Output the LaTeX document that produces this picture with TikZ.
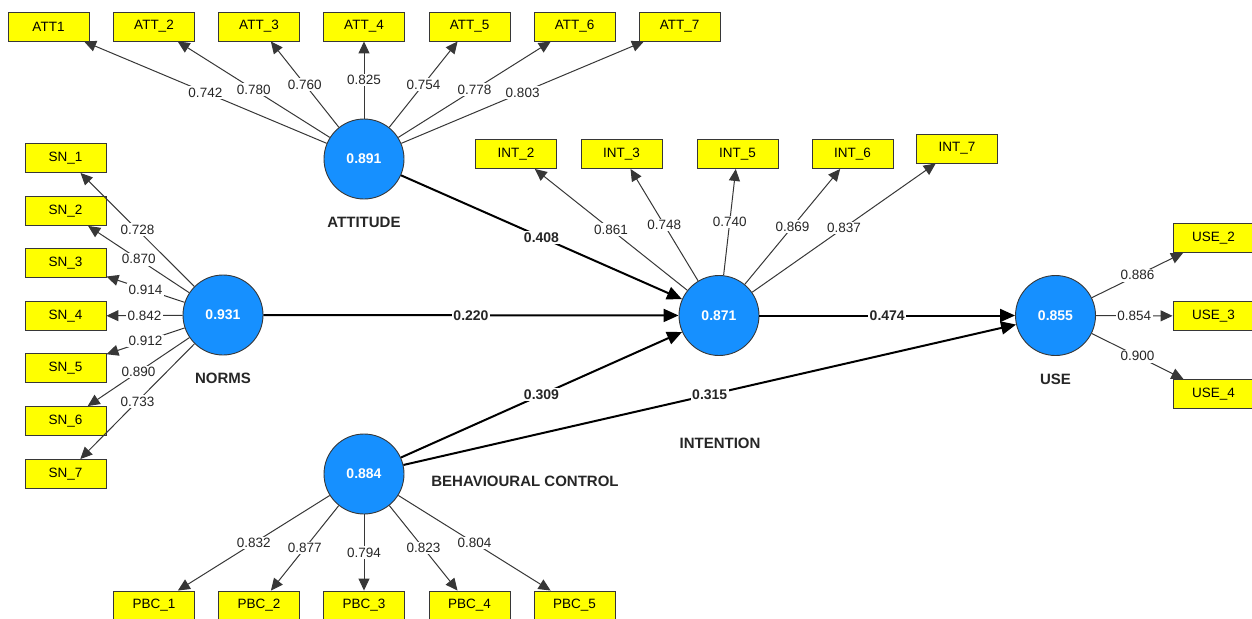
\documentclass[tikz,border=0pt]{standalone}
\usepackage{fontspec}
\setmainfont{Liberation Sans}
\usetikzlibrary{arrows.meta}
\definecolor{lvblue}{RGB}{22,144,255}
\definecolor{mvyellow}{RGB}{255,255,0}
\definecolor{edgegray}{RGB}{55,55,55}
\tikzset{
  latent/.style={circle, draw=edgegray, line width=0.9pt, fill=lvblue, minimum size=80pt,
    inner sep=0pt, text=white, font=\fontsize{14}{16}\selectfont\bfseries},
  indicator/.style={rectangle, draw=edgegray, line width=0.9pt, fill=mvyellow,
    minimum width=81pt, minimum height=29pt, inner sep=0pt, font=\fontsize{13.5}{16}\selectfont},
  lvname/.style={font=\fontsize{15}{18}\selectfont\bfseries, text=black!85},
  loading/.style={draw=edgegray, line width=1pt, -{Triangle[length=12pt,width=11pt]}},
  pathcoef/.style={draw=black, line width=2pt, -{Triangle[length=15pt,width=13pt]}},
  wlabel/.style={fill=white, inner sep=1.5pt, text=black!85, font=\fontsize{13.5}{16}\selectfont},
  blabel/.style={wlabel, font=\fontsize{14}{16}\selectfont\bfseries},
}
\begin{document}
\begin{tikzpicture}[x=1pt, y=-1pt]
\useasboundingbox (0,0) rectangle (1252,618);

% latent variables
\node[latent] (att) at (364,159) {0.891};
\node[latent] (nor) at (223,315) {0.931};
\node[latent] (int) at (719,315.5) {0.871};
\node[latent] (use) at (1055.5,315.5) {0.855};
\node[latent] (pbc) at (364,474) {0.884};

\node[lvname] (attname) at (364,222) {ATTITUDE};
\node[lvname] (norname) at (223,378) {NORMS};
\node[lvname] (intname) at (720,443) {INTENTION};
\node[lvname] (usename) at (1055.5,379) {USE};
\node[lvname] (pbcname) at (525,481) {BEHAVIOURAL CONTROL};

% attitude indicators
\node[indicator] (att1) at (48.5,26.5) {ATT1};
\node[indicator] (att2) at (154,26.5) {ATT\_2};
\node[indicator] (att3) at (259,26.5) {ATT\_3};
\node[indicator] (att4) at (364,26.5) {ATT\_4};
\node[indicator] (att5) at (469.5,26.5) {ATT\_5};
\node[indicator] (att6) at (574.5,26.5) {ATT\_6};
\node[indicator] (att7) at (679.5,26.5) {ATT\_7};

% norms indicators
\node[indicator] (sn1) at (65.5,158) {SN\_1};
\node[indicator] (sn2) at (65.5,211) {SN\_2};
\node[indicator] (sn3) at (65.5,263) {SN\_3};
\node[indicator] (sn4) at (65.5,316) {SN\_4};
\node[indicator] (sn5) at (65.5,368) {SN\_5};
\node[indicator] (sn6) at (65.5,421) {SN\_6};
\node[indicator] (sn7) at (65.5,474) {SN\_7};

% intention indicators
\node[indicator] (int2) at (516,154) {INT\_2};
\node[indicator] (int3) at (621.5,154) {INT\_3};
\node[indicator] (int5) at (737.5,154) {INT\_5};
\node[indicator] (int6) at (852.5,154) {INT\_6};
\node[indicator] (int7) at (957,148.5) {INT\_7};

% use indicators
\node[indicator] (use2) at (1213.5,238) {USE\_2};
\node[indicator] (use3) at (1213.5,316) {USE\_3};
\node[indicator] (use4) at (1213.5,394) {USE\_4};

% behavioural control indicators
\node[indicator] (pbc1) at (154,605.5) {PBC\_1};
\node[indicator] (pbc2) at (259,605.5) {PBC\_2};
\node[indicator] (pbc3) at (364,605.5) {PBC\_3};
\node[indicator] (pbc4) at (469.5,605.5) {PBC\_4};
\node[indicator] (pbc5) at (574.5,605.5) {PBC\_5};

% outer loadings
\draw[loading] (att) -- node[wlabel] {0.742} (att1);
\draw[loading] (att) -- node[wlabel] {0.780} (att2);
\draw[loading] (att) -- node[wlabel] {0.760} (att3);
\draw[loading] (att) -- node[wlabel] {0.825} (att4);
\draw[loading] (att) -- node[wlabel] {0.754} (att5);
\draw[loading] (att) -- node[wlabel] {0.778} (att6);
\draw[loading] (att) -- node[wlabel] {0.803} (att7);

\draw[loading] (nor) -- node[wlabel] {0.728} (sn1);
\draw[loading] (nor) -- node[wlabel] {0.870} (sn2);
\draw[loading] (nor) -- node[wlabel] {0.914} (sn3);
\draw[loading] (nor) -- node[wlabel] {0.842} (sn4);
\draw[loading] (nor) -- node[wlabel] {0.912} (sn5);
\draw[loading] (nor) -- node[wlabel] {0.890} (sn6);
\draw[loading] (nor) -- node[wlabel] {0.733} (sn7);

\draw[loading] (int) -- node[wlabel] {0.861} (int2);
\draw[loading] (int) -- node[wlabel] {0.748} (int3);
\draw[loading] (int) -- node[wlabel] {0.740} (int5);
\draw[loading] (int) -- node[wlabel] {0.869} (int6);
\draw[loading] (int) -- node[wlabel] {0.837} (int7);

\draw[loading] (use) -- node[wlabel] {0.886} (use2);
\draw[loading] (use) -- node[wlabel] {0.854} (use3);
\draw[loading] (use) -- node[wlabel] {0.900} (use4);

\draw[loading] (pbc) -- node[wlabel] {0.832} (pbc1);
\draw[loading] (pbc) -- node[wlabel] {0.877} (pbc2);
\draw[loading] (pbc) -- node[wlabel] {0.794} (pbc3);
\draw[loading] (pbc) -- node[wlabel] {0.823} (pbc4);
\draw[loading] (pbc) -- node[wlabel] {0.804} (pbc5);

% structural paths
\draw[pathcoef] (att) -- node[blabel] {0.408} (int);
\draw[pathcoef] (nor) -- node[blabel] {0.220} (int);
\draw[pathcoef] (pbc) -- node[blabel] {0.309} (int);
\draw[pathcoef] (int) -- node[blabel] {0.474} (use);
\draw[pathcoef] (pbc) -- node[blabel] {0.315} (use);
\end{tikzpicture}
\end{document}
